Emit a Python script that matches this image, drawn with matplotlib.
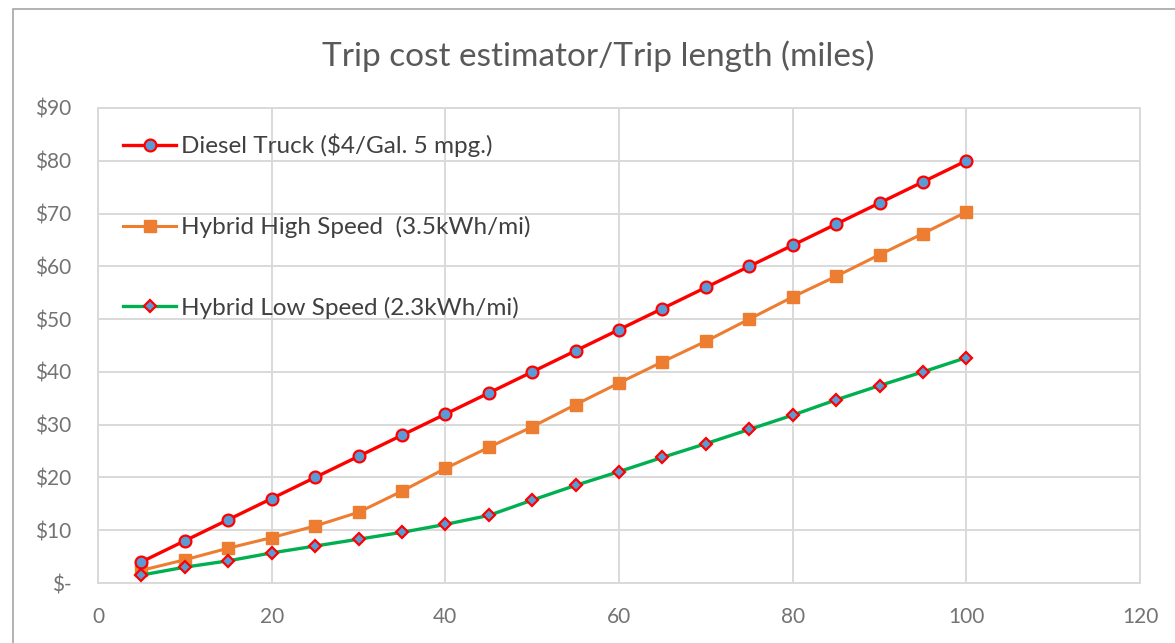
import matplotlib
matplotlib.use("Agg")
import matplotlib.pyplot as plt
from matplotlib.ticker import FuncFormatter
from matplotlib.patches import Rectangle

# trip length in miles
miles = [5, 10, 15, 20, 25, 30, 35, 40, 45, 50, 55, 60, 65, 70, 75, 80, 85, 90, 95, 100]
# cost in dollars
diesel = [4, 8, 12, 16, 20, 24, 28, 32, 36, 40, 44, 48, 52, 56, 60, 64, 68, 72, 76, 80]
hybrid_high = [2.4, 4.4, 6.6, 8.6, 10.8, 13.4, 17.4, 21.7, 25.7, 29.6, 33.8, 37.9, 41.9, 45.8,
               50.0, 54.2, 58.1, 62.2, 66.2, 70.3]
hybrid_low = [1.5, 3.0, 4.2, 5.7, 7.0, 8.3, 9.6, 11.1, 12.8, 15.7, 18.5, 21.1, 23.8, 26.4,
              29.1, 31.8, 34.7, 37.4, 40.0, 42.7]
labels = ["Diesel Truck ($4/Gal. 5 mpg.)", "Hybrid High Speed  (3.5kWh/mi)",
          "Hybrid Low Speed (2.3kWh/mi)"]
title = "Trip cost estimator/Trip length (miles)"

plt.rcParams["font.family"] = ["Lato", "DejaVu Sans"]
GRAY_TXT = "#595959"
TICK_TXT = "#737373"
GRID = "#D9D9D9"
BLUE = "#5B9BD5"

fig = plt.figure(figsize=(11.75, 6.43), dpi=100)
ax = fig.add_axes([98 / 1175, 60 / 643, 1042 / 1175, 475 / 643])

# outer chart frame (right and bottom edges fall outside the picture)
fig.patches.append(Rectangle((13 / 1175, -0.1), 1.2, 1.1 - 9 / 643, transform=fig.transFigure,
                             fill=False, edgecolor="#A6A6A6", lw=1.2))

ax.plot(miles, diesel, color="#FF0000", lw=2.4, marker="o", ms=8.5,
        mfc=BLUE, mec="#FF0000", mew=1.6, label=labels[0], zorder=5)
ax.plot(miles, hybrid_high, color="#ED7D31", lw=2.2, marker="s", ms=8.5,
        mfc="#ED7D31", mec="#ED7D31", label=labels[1], zorder=4)
ax.plot(miles, hybrid_low, color="#00B050", lw=2.4, marker="D", ms=6.5,
        mfc=BLUE, mec="#FF0000", mew=1.6, label=labels[2], zorder=4)

ax.set_xlim(0, 120)
ax.set_ylim(0, 90)
ax.set_xticks(range(0, 121, 20))
ax.set_yticks(range(0, 91, 10))
ax.yaxis.set_major_formatter(FuncFormatter(lambda v, p: "$-" if v == 0 else f"${v:.0f}"))
ax.grid(True, color=GRID, lw=1.4)
ax.set_axisbelow(True)
for s in ax.spines.values():
    s.set_color(GRID)
    s.set_linewidth(1.4)
ax.tick_params(length=0, labelsize=15, colors=TICK_TXT)
ax.tick_params(axis="x", pad=17)
ax.tick_params(axis="y", pad=19)

fig.text(0.509, 1 - 66 / 643, title, ha="center", va="baseline", fontsize=24, color=GRAY_TXT)

leg = ax.legend(loc="upper left", bbox_to_anchor=(0.003, 0.992), frameon=False,
                fontsize=17.5, handlelength=2.2, labelspacing=2.42, handletextpad=0.2)
for t in leg.get_texts():
    t.set_color("#404040")

fig.savefig("out.png", dpi=100)
